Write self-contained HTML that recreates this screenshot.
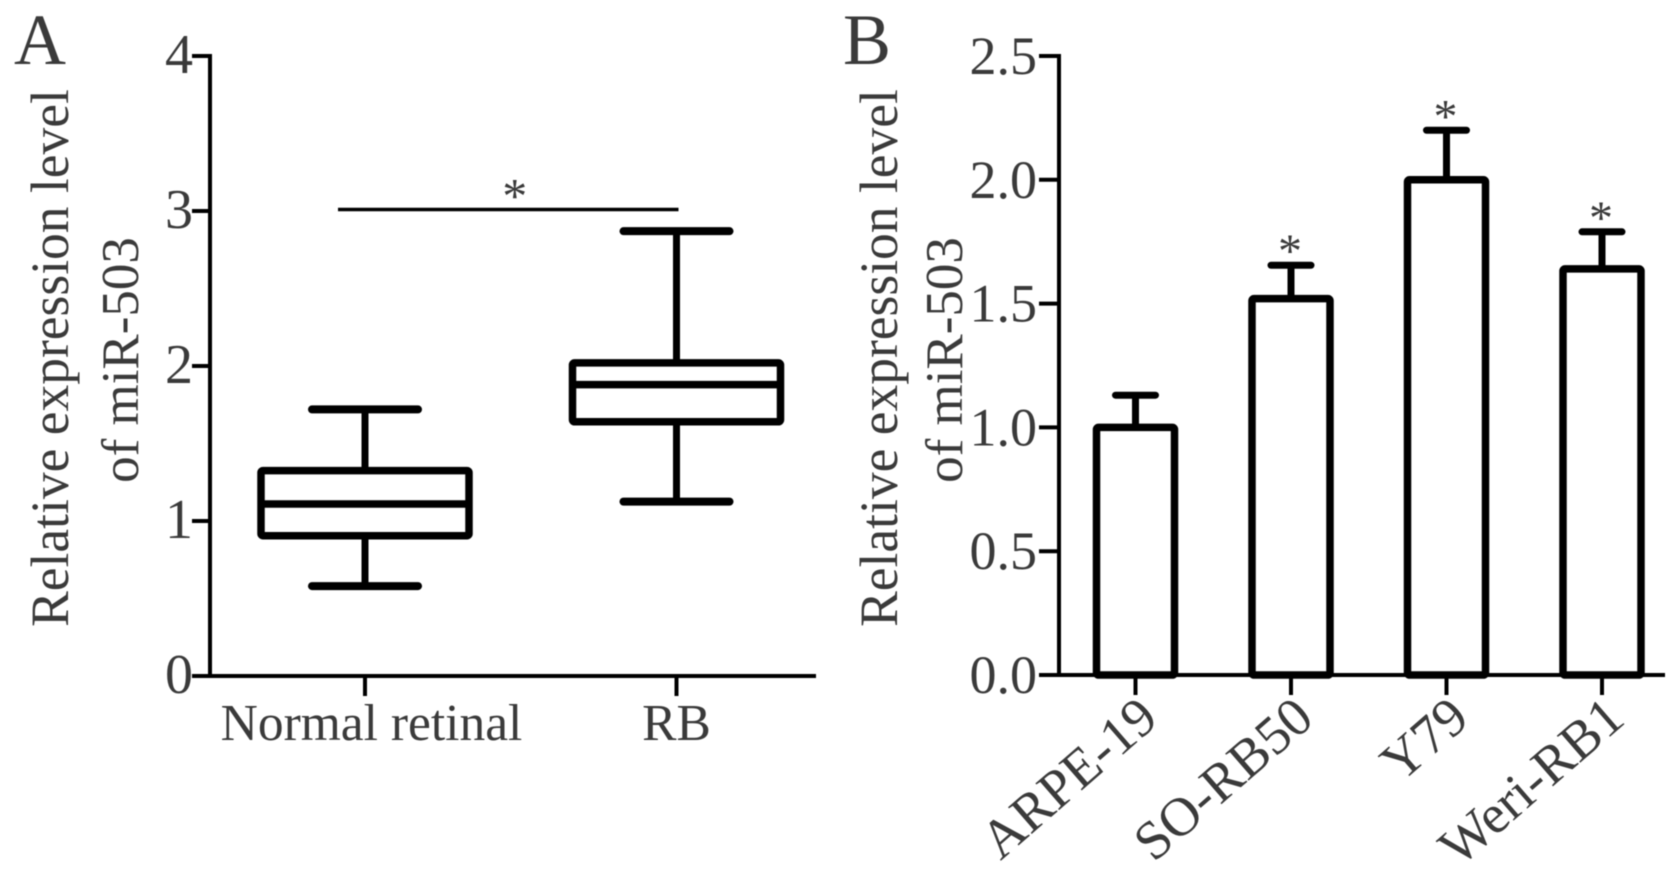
<!DOCTYPE html>
<html lang="en">
<head>
<meta charset="utf-8">
<title>Relative expression level of miR-503</title>
<style>
html,body{margin:0;padding:0;background:#fff;width:1677px;height:875px;overflow:hidden}
svg{display:block;filter:blur(0.5px)}
text{font-family:"Liberation Serif","Times New Roman",serif;fill:#3a3a3a}
</style>
</head>
<body>
<svg id="figure" xmlns="http://www.w3.org/2000/svg" width="1677" height="875" viewBox="0 0 1677 875">
  <g id="panel-a">
    <text x="14" y="64" font-size="72">A</text>
    <text transform="translate(68 358) rotate(-90)" text-anchor="middle" font-size="53.5">Relative expression level</text>
    <text transform="translate(138 360) rotate(-90)" text-anchor="middle" font-size="53">of miR-503</text>
  </g>
  <g id="panel-b">
    <text x="843" y="64" font-size="72">B</text>
    <text transform="translate(897 358) rotate(-90)" text-anchor="middle" font-size="53.5">Relative expression level</text>
    <text transform="translate(962 360) rotate(-90)" text-anchor="middle" font-size="53">of miR-503</text>
  </g>
</svg>
<script>
const boxCategories = ['Normal retinal', 'RB'];
const boxLow = [0.58, 1.125];
const boxQ1 = [0.905, 1.64];
const boxMedian = [1.11, 1.88];
const boxQ3 = [1.325, 2.02];
const boxHigh = [1.72, 2.87];
const boxTicks = ['0', '1', '2', '3', '4'];
const boxSignificance = [0, 1, 3.01];

const barCategories = ['ARPE-19', 'SO-RB50', 'Y79', 'Weri-RB1'];
const barValues = [1.0, 1.52, 2.0, 1.64];
const barErrorTops = [1.13, 1.655, 2.2, 1.79];
const barStars = ['', '*', '*', '*'];
const barTicks = ['0.0', '0.5', '1.0', '1.5', '2.0', '2.5'];

const SVGNS = 'http://www.w3.org/2000/svg';
const panelA = document.getElementById('panel-a');
const panelB = document.getElementById('panel-b');

function line(parent, x1, y1, x2, y2, width, name, cap) {
  const el = document.createElementNS(SVGNS, 'line');
  el.setAttribute('x1', x1);
  el.setAttribute('y1', y1);
  el.setAttribute('x2', x2);
  el.setAttribute('y2', y2);
  el.setAttribute('stroke', '#000');
  el.setAttribute('stroke-width', width);
  el.setAttribute('stroke-linecap', cap || 'butt');
  
  
  parent.appendChild(el);
  return el;
}

function rect(parent, x, y, w, h, width, name) {
  const el = document.createElementNS(SVGNS, 'rect');
  el.setAttribute('x', x);
  el.setAttribute('y', y);
  el.setAttribute('width', w);
  el.setAttribute('height', h);
  el.setAttribute('rx', 2);
  el.setAttribute('fill', '#fff');
  el.setAttribute('stroke', '#000');
  el.setAttribute('stroke-width', width);
  
  
  parent.appendChild(el);
  return el;
}

function label(parent, x, y, size, anchor, str, name, rotate) {
  const el = document.createElementNS(SVGNS, 'text');
  el.setAttribute('font-size', size);
  el.setAttribute('text-anchor', anchor);
  if (rotate) {
    el.setAttribute('transform', 'translate(' + x + ' ' + y + ') rotate(' + rotate + ')');
  } else {
    el.setAttribute('x', x);
    el.setAttribute('y', y);
  }
  el.textContent = str;
  
  
  parent.appendChild(el);
  return el;
}

/* Panel A axes */
const aLeft = 210, aRight = 816, aTop = 56, aBase = 676;
const aMax = Number(boxTicks[boxTicks.length - 1]);
function yA(v) { return aBase - (v / aMax) * (aBase - aTop); }
function xA(i) { return 365 + i * 311.5; }

line(panelA, aLeft, aTop - 2, aLeft, aBase + 2, 4, 'panel-a-y-axis');
line(panelA, aLeft - 18, aBase, aRight, aBase, 4, 'panel-a-x-axis');
boxTicks.forEach(function (t) {
  const v = Number(t);
  line(panelA, aLeft - 18, yA(v), aLeft, yA(v), 4, 'panel-a-y-tick-' + t);
  label(panelA, aLeft - 17, yA(v) + 17, 56, 'end', t, 'panel-a-y-tick-label-' + t);
});
boxCategories.forEach(function (c, i) {
  const key = c.toLowerCase().replace(/\s+/g, '-');
  const x = xA(i);
  line(panelA, x, aBase, x, aBase + 20, 4, 'panel-a-x-tick-' + key);
  label(panelA, x + 6.5 - i * 6.5, 740, 51.5, 'middle', c, 'panel-a-x-label-' + key);
  line(panelA, x, yA(boxHigh[i]), x, yA(boxQ3[i]), 7, 'whisker-upper-' + key);
  line(panelA, x, yA(boxQ1[i]), x, yA(boxLow[i]), 7, 'whisker-lower-' + key);
  line(panelA, x - 53, yA(boxHigh[i]), x + 53, yA(boxHigh[i]), 8, 'whisker-cap-high-' + key, 'round');
  line(panelA, x - 53, yA(boxLow[i]), x + 53, yA(boxLow[i]), 8, 'whisker-cap-low-' + key, 'round');
  rect(panelA, x - 104, yA(boxQ3[i]), 208, yA(boxQ1[i]) - yA(boxQ3[i]), 7.5, 'box-' + key);
  line(panelA, x - 104, yA(boxMedian[i]), x + 104, yA(boxMedian[i]), 7.5, 'median-' + key);
});
const sigY = yA(boxSignificance[2]);
line(panelA, xA(boxSignificance[0]) - 27, sigY, xA(boxSignificance[1]) + 2, sigY, 3.5, 'significance-bracket');
label(panelA, (xA(0) + xA(1)) / 2 - 6, sigY + 3, 50, 'middle', '*', 'significance-star');

/* Panel B axes */
const bLeft = 1059, bRight = 1665, bTop = 56, bBase = 675;
const bMax = Number(barTicks[barTicks.length - 1]);
function yB(v) { return bBase - (v / bMax) * (bBase - bTop); }
function xB(i) { return 1135.5 + i * 155.5; }

line(panelB, bLeft, bTop - 2, bLeft, bBase + 2, 4, 'panel-b-y-axis');
line(panelB, bLeft - 20, bBase, bRight, bBase, 4, 'panel-b-x-axis');
barTicks.forEach(function (t) {
  const v = Number(t);
  line(panelB, bLeft - 20, yB(v), bLeft, yB(v), 4, 'panel-b-y-tick-' + t);
  label(panelB, bLeft - 22, yB(v) + 18, 54, 'end', t, 'panel-b-y-tick-label-' + t);
});
barCategories.forEach(function (c, i) {
  const key = c.toLowerCase();
  const x = xB(i);
  line(panelB, x, bBase, x, bBase + 20, 4, 'panel-b-x-tick-' + key);
  label(panelB, x + 25, 722, 54.5, 'end', c, 'panel-b-x-label-' + key, -41);
  line(panelB, x, yB(barErrorTops[i]), x, yB(barValues[i]), 7, 'error-bar-' + key);
  line(panelB, x - 20, yB(barErrorTops[i]), x + 20, yB(barErrorTops[i]), 7, 'error-cap-' + key, 'round');
  rect(panelB, x - 39, yB(barValues[i]), 78, bBase - yB(barValues[i]), 7.5, 'bar-' + key);
  if (barStars[i]) {
    label(panelB, x - 1, yB(barErrorTops[i]) + 2, 48, 'middle', barStars[i], 'star-' + key);
  }
});
</script>
</body>
</html>
